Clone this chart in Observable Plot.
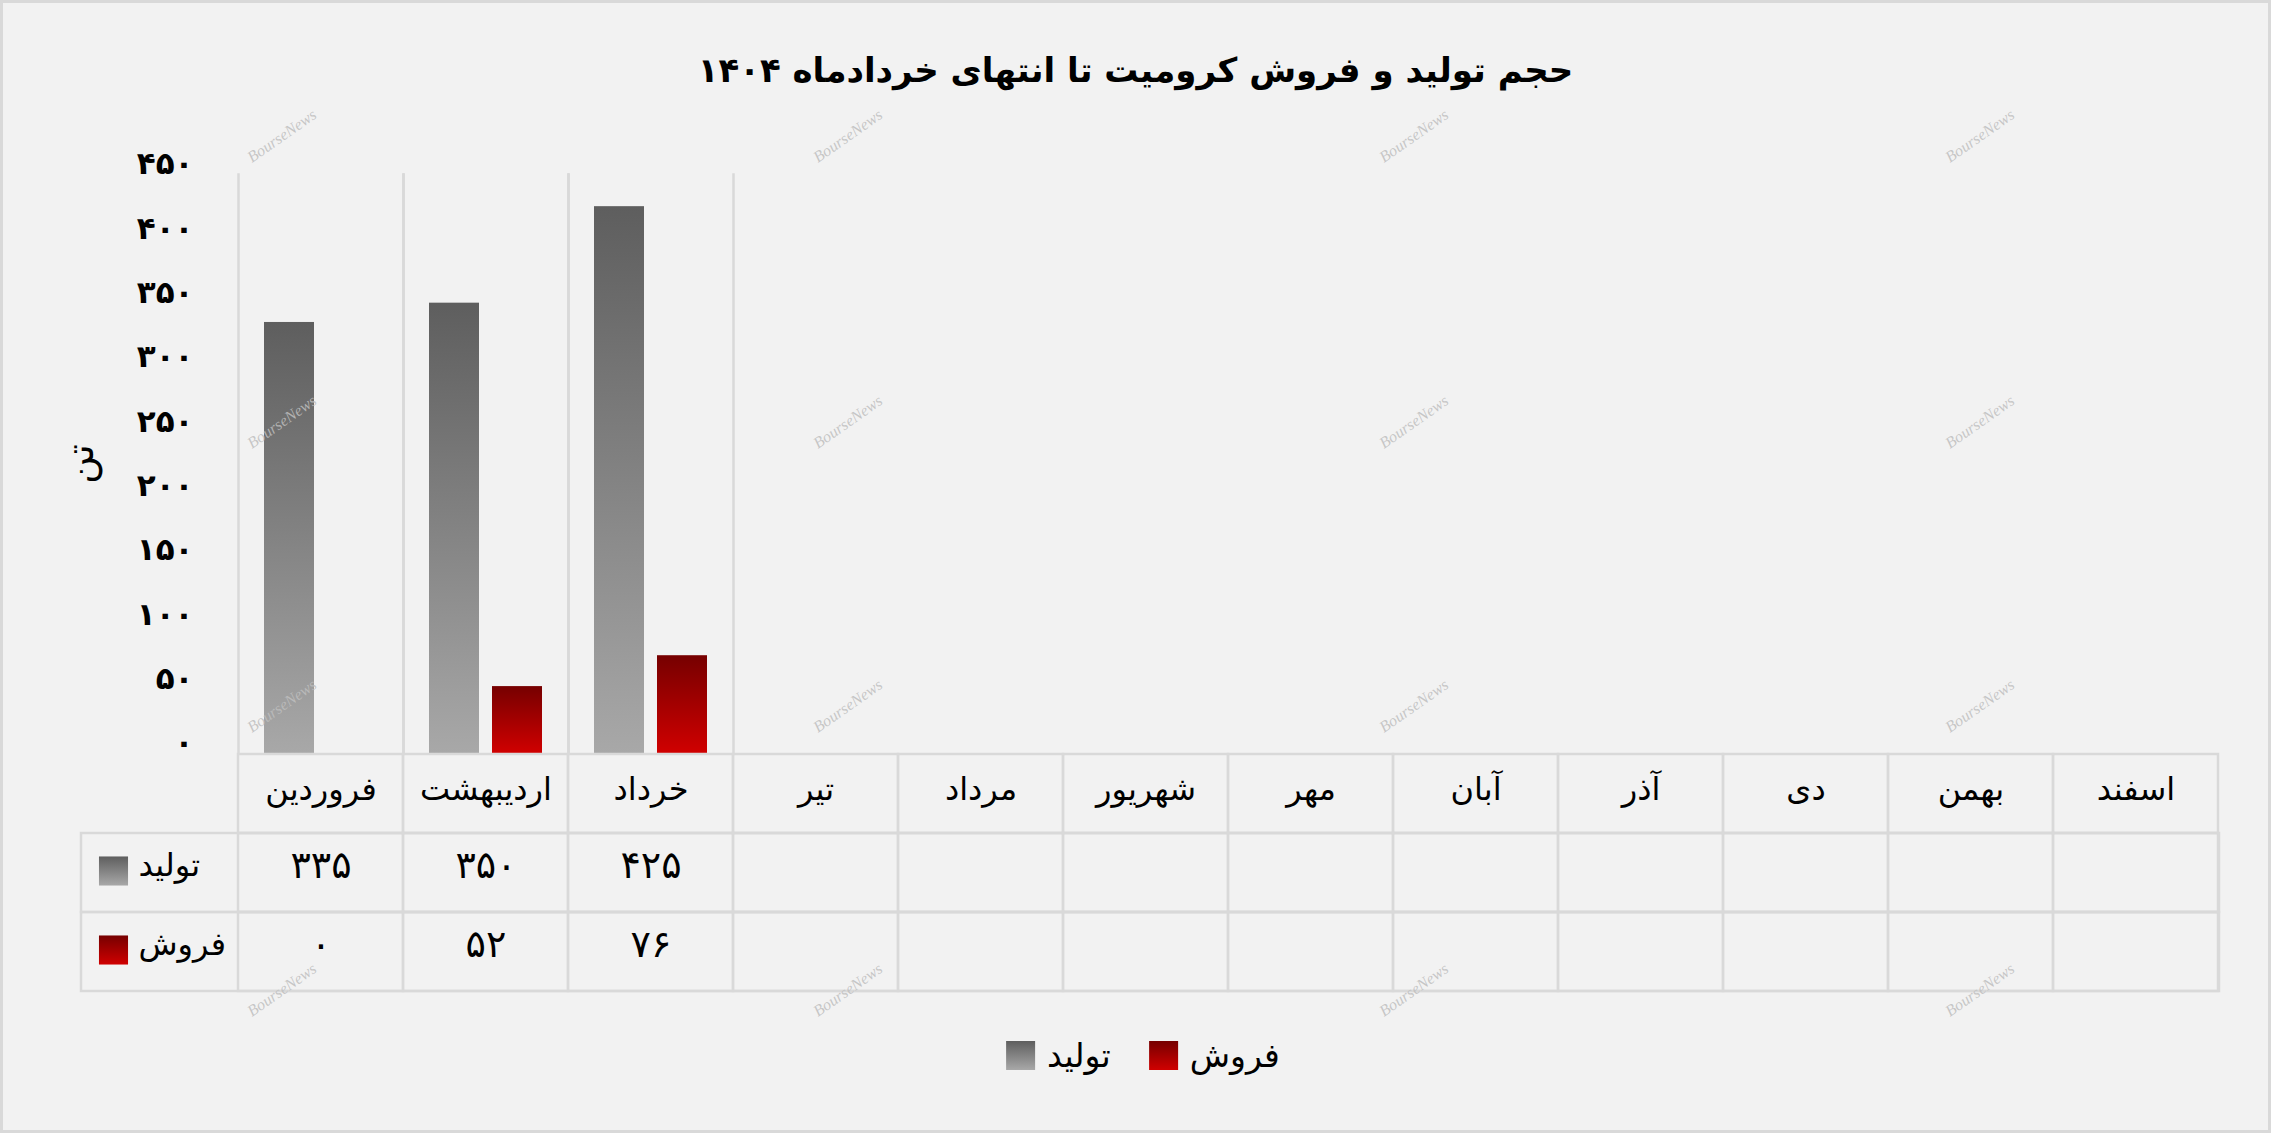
<!DOCTYPE html>
<html>
<head>
<meta charset="utf-8">
<script src="https://cdn.jsdelivr.net/npm/d3@7"></script>
<script src="https://cdn.jsdelivr.net/npm/@observablehq/plot@0.6"></script>
<style>
html, body { margin: 0; padding: 0; background: #f2f2f2; }
#root { position: relative; width: 2271px; height: 1133px; background: #f2f2f2; overflow: hidden; font-family: "DejaVu Sans", sans-serif; color: #000; }
#root > svg { position: absolute; left: 0; top: 0; }
.border { position: absolute; left: 0; top: 0; right: 0; bottom: 0; border: 3px solid #d9d9d9; pointer-events: none; }
#title { position: absolute; left: 0; width: 100%; top: 45px; line-height: 50px; text-align: center; direction: rtl; font-size: 34px; font-weight: bold; }
#legend { position: absolute; top: 1036px; left: 1143px; transform: translateX(-50%); display: flex; align-items: center; direction: ltr; font-size: 33px; white-space: nowrap; }
#legend .item { display: flex; align-items: center; margin: 0 19px; }
#legend .sw { width: 29px; height: 29px; margin-right: 12px; }
.wm { position: absolute; font-family: "Liberation Serif", serif; font-style: italic; font-size: 16px; color: rgba(190,190,190,0.85); transform: translate(-50%, -50%) rotate(-35deg); pointer-events: none; white-space: nowrap; }
</style>
</head>
<body>
<div id="root">
  <div id="title"></div>
  <div id="legend"></div>
  <div class="border"></div>
</div>
<script>
// ---- data ----
const title = "حجم تولید و فروش کرومیت تا انتهای خردادماه ۱۴۰۴";
const unitLabel = "تن";
const months = ["فروردین", "اردیبهشت", "خرداد", "تیر", "مرداد", "شهریور", "مهر", "آبان", "آذر", "دی", "بهمن", "اسفند"];
const seriesNames = ["تولید", "فروش"];
const production = [335, 350, 425];
const sales = [0, 52, 76];
const yTicks = [0, 50, 100, 150, 200, 250, 300, 350, 400, 450];
const yMax = 450;
const gradGray = ["#5e5e5e", "#a8a8a8"];
const gradRed = ["#760000", "#d00000"];
const watermark = "BourseNews";

const faDigits = "۰۱۲۳۴۵۶۷۸۹";
const fa = v => String(v).replace(/\d/g, d => faDigits[+d]);

const seriesValues = [production, sales];
const bars = [];
seriesNames.forEach((s, i) => seriesValues[i].forEach((v, j) => bars.push({month: months[j], series: s, value: v})));

const root = d3.select("#root");
d3.select("#title").text(title);

// gradients
const gradIds = ["gGray", "gRed"];
const defsSvg = root.insert("svg", ":first-child").attr("width", 0).attr("height", 0);
const defs = defsSvg.append("defs");
[gradGray, gradRed].forEach((c, i) => {
  const g = defs.append("linearGradient").attr("id", gradIds[i]).attr("x1", 0).attr("y1", 0).attr("x2", 0).attr("y2", 1);
  g.append("stop").attr("offset", "0%").attr("stop-color", c[0]);
  g.append("stop").attr("offset", "100%").attr("stop-color", c[1]);
});

const baseStyle = {background: "transparent", fontFamily: "DejaVu Sans", fontSize: "32px", color: "#000", overflow: "visible"};
const gridColor = "#d9d9d9";

// ---- chart ----
const chart = Plot.plot({
  width: 2271, height: 760,
  marginTop: 174, marginBottom: 7, marginLeft: 237, marginRight: 52,
  style: baseStyle,
  fx: {domain: months, padding: 0, axis: null},
  x: {domain: seriesNames, paddingInner: 0.2, paddingOuter: 0.4, axis: null},
  y: {domain: [0, yMax], axis: null},
  marks: [
    Plot.frame({anchor: "left", stroke: gridColor, strokeWidth: 2.5}),
    Plot.frame({anchor: "right", stroke: gridColor, strokeWidth: 2.5}),
    ...seriesNames.map((s, i) => Plot.barY(bars.filter(d => d.series === s), {fx: "month", x: "series", y: "value", fill: `url(#${gradIds[i]})`})),
    Plot.axisY({ticks: yTicks, tickFormat: fa, tickSize: 0, tickPadding: 45, fontWeight: "bold", fontSize: 31, dy: -10, label: null}),
    Plot.axisY({ticks: [], tickSize: 0, label: unitLabel, labelAnchor: "center", labelOffset: 172, labelArrow: "none", fontSize: 38})
  ]
});
root.node().insertBefore(chart, document.querySelector(".border"));

// ---- data table ----
const rowKeys = ["header", ...seriesNames];
const gridCells = rowKeys.flatMap(r => months.map(m => ({month: m, row: r})));
const table = Plot.plot({
  width: 2271, height: 1000,
  marginTop: 753, marginBottom: 9, marginLeft: 81, marginRight: 52,
  style: baseStyle,
  x: {type: "band", domain: months, range: [237, 2219], padding: 0, axis: null},
  y: {type: "band", domain: rowKeys, padding: 0, axis: null},
  marks: [
    Plot.cell(gridCells, {x: "month", y: "row", fill: "none", stroke: gridColor, strokeWidth: 2.5}),
    Plot.cell(seriesNames, {y: d => d, fill: "none", stroke: gridColor, strokeWidth: 2.5}),
    Plot.text(months, {x: d => d, y: () => "header", text: d => d, dy: -4}),
    Plot.text(bars, {x: "month", y: "series", text: d => fa(d.value), fontSize: 38, dy: -7}),
    ...seriesNames.map((s, i) => Plot.dot([s], {y: d => d, frameAnchor: "left", dx: 32, dy: -2, symbol: "square", r: 16.4, fill: `url(#${gradIds[i]})`})),
    Plot.text(seriesNames, {y: d => d, frameAnchor: "left", dx: 57, dy: -7, textAnchor: "start"})
  ]
});
root.node().insertBefore(table, document.querySelector(".border"));

// ---- legend ----
const legend = d3.select("#legend");
seriesNames.forEach((s, i) => {
  const item = legend.append("div").attr("class", "item");
  item.append("div").attr("class", "sw").style("background", `linear-gradient(${[gradGray, gradRed][i][0]}, ${[gradGray, gradRed][i][1]})`);
  item.append("span").text(s);
});

// ---- watermarks ----
const wmX = [282, 848, 1414, 1980];
const wmY = [136, 422, 706, 990];
wmY.forEach(y => wmX.forEach(x => {
  root.append("div").attr("class", "wm").style("left", x + "px").style("top", y + "px").text(watermark);
}));
</script>
</body>
</html>
